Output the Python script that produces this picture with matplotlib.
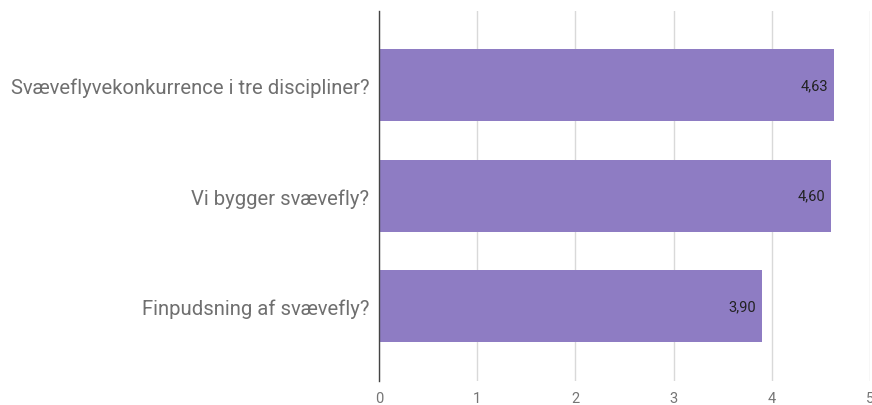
import matplotlib.pyplot as plt

categories = ["Svæveflyvekonkurrence i tre discipliner?", "Vi bygger svævefly?", "Finpudsning af svævefly?"]
values = [4.63, 4.60, 3.90]
value_labels = ["4,63", "4,60", "3,90"]
xticks = [0, 1, 2, 3, 4, 5]

plt.rcParams['font.family'] = ['Roboto', 'DejaVu Sans']

fig = plt.figure(figsize=(8.72, 4.06), dpi=100)
ax = fig.add_axes([379 / 872, 1 - 382 / 406, 491 / 872, 370 / 406])

pos = list(range(len(categories)))
ax.barh(pos, values, height=0.65, color='#8e7cc3', zorder=2)

for p, v, lab in zip(pos, values, value_labels):
    ax.text(v - 0.06, p, lab, ha='right', va='center', fontsize=10.5, color='#222222', zorder=3)

ax.set_xlim(0, 5)
ax.set_ylim(2.676, -0.672)
ax.set_xticks(xticks)
ax.set_xticklabels([str(t) for t in xticks], fontsize=10.5, color='#757575')
ax.set_yticks(pos)
ax.set_yticklabels(categories, fontsize=14.6, color='#6f6f6f')
ax.tick_params(axis='y', length=0, pad=7)
ax.tick_params(axis='x', length=0, pad=7)
ax.grid(axis='x', color='#d9d9d9', linewidth=1, zorder=0)
for s in ['top', 'right', 'bottom']:
    ax.spines[s].set_visible(False)
ax.spines['left'].set_color('#444444')
ax.spines['left'].set_linewidth(1)
ax.spines['left'].set_zorder(3)

fig.savefig('out.png', dpi=100)
